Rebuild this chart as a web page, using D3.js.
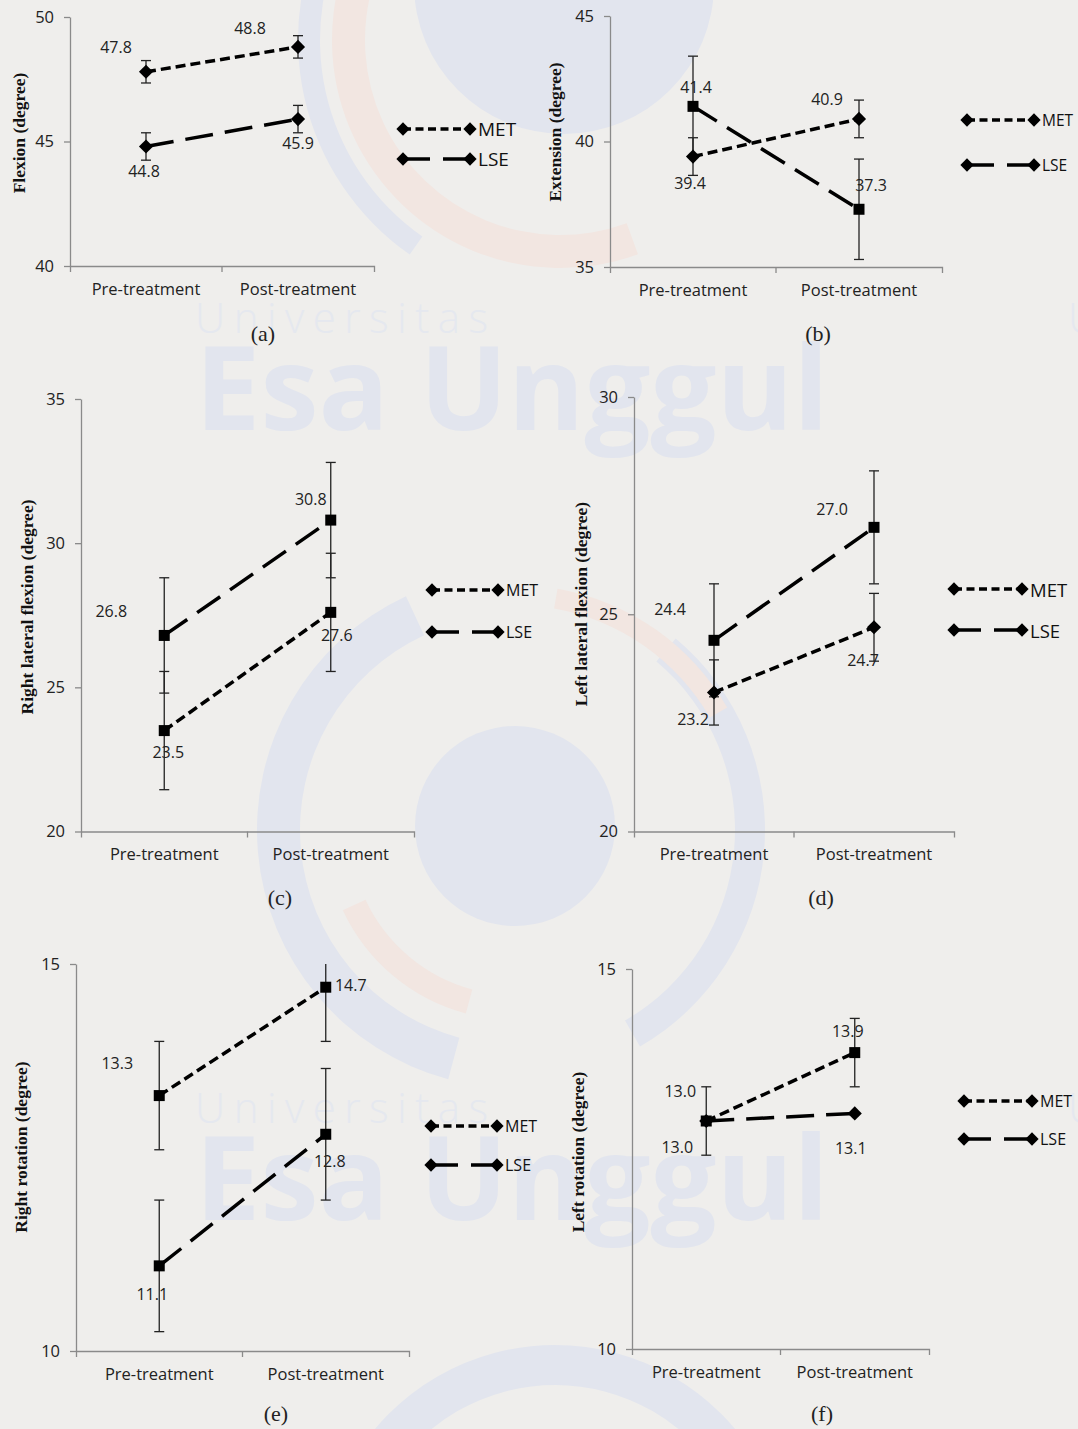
<!DOCTYPE html>
<html><head><meta charset="utf-8">
<script src="https://cdn.jsdelivr.net/npm/d3@7"></script>
<style>
html,body{margin:0;padding:0;background:#efeeec;}
svg{display:block;}
</style></head><body>
<svg id="chart" width="1078" height="1429"></svg>
<script>
// ---------- DATA ----------
const categories = ["Pre-treatment", "Post-treatment"];
const seriesNames = ["MET", "LSE"];

const flexionMET = [47.8, 48.8];
const flexionLSE = [44.8, 45.9];
const flexionErrMET = [0.45, 0.45];
const flexionErrLSE = [0.55, 0.55];
const flexionTicks = [40, 45, 50];

const extensionMET = [39.4, 40.9];
const extensionLSE = [41.4, 37.3];
const extensionErrMET = [0.75, 0.75];
const extensionErrLSE = [2.0, 2.0];
const extensionTicks = [35, 40, 45];

const rightLatMET = [23.5, 27.6];
const rightLatLSE = [26.8, 30.8];
const rightLatErrMET = [2.05, 2.05];
const rightLatErrLSE = [2.0, 2.0];
const rightLatTicks = [20, 25, 30, 35];

const leftLatMET = [23.2, 24.7];
const leftLatLSE = [24.4, 27.0];
const leftLatErrMET = [0.75, 0.78];
const leftLatErrLSE = [1.3, 1.3];
const leftLatTicks = [20, 25, 30];

const rightRotMET = [13.3, 14.7];
const rightRotLSE = [11.1, 12.8];
const rightRotErrMET = [0.7, 0.7];
const rightRotErrLSE = [0.85, 0.85];
const rightRotTicks = [10, 15];

const leftRotMET = [13.0, 13.9];
const leftRotLSE = [13.0, 13.1];
const leftRotErrMET = [0.45, 0.45];
const leftRotErrLSE = [0, 0];
const leftRotTicks = [10, 15];

// ---------- LAYOUT ----------
const panels = [
  {yTitle:"Flexion (degree)", caption:"(a)", met:flexionMET, lse:flexionLSE, errMet:flexionErrMET, errLse:flexionErrLSE, ticks:flexionTicks,
   markers:["diamond","diamond"], box:{x0:70,x1:374,yTop:17,yBot:266},
   labelOff:{met:[[-30,-25],[-48,-19]], lse:[[-2,25],[0,24]]},
   legend:{x0:403,x1:470,yMet:129,yLse:159,font:19}, titlePos:[19,133], captionPos:[263,333]},
  {yTitle:"Extension (degree)", caption:"(b)", met:extensionMET, lse:extensionLSE, errMet:extensionErrMET, errLse:extensionErrLSE, ticks:extensionTicks,
   markers:["diamond","square"], box:{x0:610,x1:942,yTop:16,yBot:267},
   labelOff:{met:[[-3,26],[-32,-20]], lse:[[3,-19],[12,-24]]},
   legend:{x0:967,x1:1034,yMet:120,yLse:165,font:15.5}, titlePos:[555,132], captionPos:[818,333]},
  {yTitle:"Right lateral flexion (degree)", caption:"(c)", met:rightLatMET, lse:rightLatLSE, errMet:rightLatErrMET, errLse:rightLatErrLSE, ticks:rightLatTicks,
   markers:["square","square"], box:{x0:81,x1:414,yTop:399,yBot:831.5},
   labelOff:{met:[[4,21],[6,23]], lse:[[-53,-24],[-20,-21]]},
   legend:{x0:432,x1:498,yMet:590,yLse:632,font:16}, titlePos:[27,607], captionPos:[280,897]},
  {yTitle:"Left lateral flexion (degree)", caption:"(d)", met:leftLatMET, lse:leftLatLSE, errMet:leftLatErrMET, errLse:leftLatErrLSE, ticks:leftLatTicks,
   markers:["diamond","square"], box:{x0:634,x1:954,yTop:397,yBot:831.5},
   labelOff:{met:[[-21,27],[-11,33]], lse:[[-44,-31],[-42,-18]]},
   legend:{x0:954,x1:1022,yMet:589,yLse:630,font:18.5}, titlePos:[581,604], captionPos:[821,897]},
  {yTitle:"Right rotation (degree)", caption:"(e)", met:rightRotMET, lse:rightRotLSE, errMet:rightRotErrMET, errLse:rightRotErrLSE, ticks:rightRotTicks,
   markers:["square","square"], box:{x0:76,x1:409,yTop:964,yBot:1351},
   labelOff:{met:[[-42,-33],[25,-2]], lse:[[-7,28],[4,27]]},
   legend:{x0:431,x1:497,yMet:1126,yLse:1165,font:16}, titlePos:[21,1147], captionPos:[276,1413]},
  {yTitle:"Left rotation (degree)", caption:"(f)", met:leftRotMET, lse:leftRotLSE, errMet:leftRotErrMET, errLse:leftRotErrLSE, ticks:leftRotTicks,
   markers:["square","diamond"], box:{x0:632,x1:929,yTop:969,yBot:1349},
   labelOff:{met:[[-26,-30],[-7,-22]], lse:[[-29,26],[-4,35]]},
   legend:{x0:964,x1:1032,yMet:1101,yLse:1139,font:16}, titlePos:[578,1152], captionPos:[822,1413]}
];

const dashes = {MET:"10,5", LSE:"28,12"};
const legendDashes = {MET:"8,4.5", LSE:"27,13"};
const sansFont = "'Open Sans', 'Noto Sans', sans-serif";
const serifFont = "'Liberation Serif', 'DejaVu Serif', serif";

const svg = d3.select("#chart");

// ---------- WATERMARK ----------
const wm = svg.append("g").attr("class","watermark");
const wBlue = "#e2e5ee", wOrange = "#f2e6e1";
function ring(cx, cy, r0, r1, a0, a1, col){
  wm.append("path").attr("transform",`translate(${cx},${cy})`)
    .attr("d", d3.arc()({innerRadius:r0, outerRadius:r1, startAngle:a0*Math.PI/180, endAngle:a1*Math.PI/180}))
    .attr("fill", col);
}
// top logo
wm.append("circle").attr("cx",564).attr("cy",-16).attr("r",150).attr("fill",wBlue);
ring(560,40,195,228,160,330,wOrange);
ring(560,40,240,262,215,300,wBlue);
// middle logo
wm.append("circle").attr("cx",515).attr("cy",826).attr("r",100).attr("fill",wBlue);
ring(515,830,215,258,195,335,wBlue);
ring(515,830,220,250,40,150,wBlue);
ring(515,830,165,190,195,245,wOrange);
ring(515,830,225,245,10,60,wOrange);
// bottom logo
ring(555,1580,195,235,300,420,wBlue);
// texts
[195, 1068].forEach(x0 => {
  [[333,430],[1123,1220]].forEach(([yu, ye]) => {
    wm.append("text").attr("x",x0).attr("y",yu).text("Universitas")
      .attr("font-family",sansFont).attr("font-weight",300).attr("font-size",42)
      .attr("textLength",293).attr("lengthAdjust","spacing").attr("fill","#e5e8ef");
    wm.append("text").attr("x",x0).attr("y",ye).text("Esa Unggul")
      .attr("font-family",sansFont).attr("font-weight",700).attr("font-size",116)
      .attr("textLength",634).attr("lengthAdjust","spacingAndGlyphs").attr("fill",wBlue);
  });
});

// ---------- PANELS ----------
function markerPath(type){
  if(type === "diamond") return d3.symbol().type(d3.symbolSquare).size(100)();
  return d3.symbol().type(d3.symbolSquare).size(121)();
}
function markerRot(type){ return type === "diamond" ? 45 : 0; }

panels.forEach(p => {
  const g = svg.append("g");
  const b = p.box;
  const yMin = d3.min(p.ticks), yMax = d3.max(p.ticks);
  const xb = d3.scaleBand().domain(categories).range([b.x0, b.x1]);
  const xp = d3.scalePoint().domain(categories).range([b.x0, b.x1]).padding(0.5);
  const y = d3.scaleLinear().domain([yMin, yMax]).range([b.yBot, b.yTop]);

  // y axis
  const ya = g.append("g").attr("transform",`translate(${b.x0},0)`)
    .call(d3.axisLeft(y).tickValues(p.ticks).tickSizeInner(6).tickSizeOuter(0).tickPadding(10).tickFormat(d3.format("d")));
  ya.attr("font-size",null).attr("font-family",null);
  ya.selectAll("path,line").attr("stroke","#8a8a8a").attr("stroke-width",1.3);
  ya.selectAll("text").style("font-family",sansFont).style("font-size","16.5px").attr("fill","#222");

  // x axis
  const xa = g.append("g").attr("transform",`translate(0,${b.yBot})`)
    .call(d3.axisBottom(xb).tickSizeInner(0).tickSizeOuter(6).tickPadding(17));
  xa.attr("font-size",null).attr("font-family",null);
  xa.selectAll("path").attr("stroke","#8a8a8a").attr("stroke-width",1.3);
  xa.selectAll("text").style("font-family",sansFont).style("font-size","16.5px").attr("fill","#222");
  categories.slice(1).forEach(c => {
    xa.append("line").attr("x1",xb(c)).attr("x2",xb(c)).attr("y1",0).attr("y2",6)
      .attr("stroke","#8a8a8a").attr("stroke-width",1.3);
  });

  // titles
  g.append("text").attr("transform",`translate(${p.titlePos[0]},${p.titlePos[1]}) rotate(-90)`)
    .attr("text-anchor","middle").attr("dominant-baseline","central")
    .attr("font-family",serifFont).attr("font-weight","bold").attr("font-size",17.5).attr("fill","#111")
    .text(p.yTitle);
  g.append("text").attr("x",p.captionPos[0]).attr("y",p.captionPos[1])
    .attr("text-anchor","middle").attr("dominant-baseline","central")
    .attr("font-family",serifFont).attr("font-size",22).attr("fill","#222").text(p.caption);

  const series = [
    {name:"MET", vals:p.met, err:p.errMet, marker:p.markers[0], off:p.labelOff.met},
    {name:"LSE", vals:p.lse, err:p.errLse, marker:p.markers[1], off:p.labelOff.lse}
  ];

  // error bars
  series.forEach(s => {
    s.vals.forEach((v,i) => {
      const e = s.err[i];
      if(!e) return;
      const cx = xp(categories[i]);
      const lo = Math.max(yMin, v - e), hi = Math.min(yMax, v + e);
      g.append("line").attr("x1",cx).attr("x2",cx).attr("y1",y(lo)).attr("y2",y(hi))
        .attr("stroke","#222").attr("stroke-width",1.3);
      [[lo, v - e >= yMin],[hi, v + e <= yMax]].forEach(([val, show]) => {
        if(!show) return;
        g.append("line").attr("x1",cx-5).attr("x2",cx+5).attr("y1",y(val)).attr("y2",y(val))
          .attr("stroke","#222").attr("stroke-width",1.3);
      });
    });
  });

  // lines
  series.forEach(s => {
    const line = d3.line().x((d,i) => xp(categories[i])).y(d => y(d));
    g.append("path").attr("d", line(s.vals)).attr("fill","none").attr("stroke","#000")
      .attr("stroke-width",3.5).attr("stroke-dasharray",dashes[s.name]);
  });
  // markers
  series.forEach(s => {
    s.vals.forEach((v,i) => {
      g.append("path").attr("d", markerPath(s.marker))
        .attr("transform",`translate(${xp(categories[i])},${y(v)}) rotate(${markerRot(s.marker)})`)
        .attr("fill","#000");
    });
  });
  // data labels
  series.forEach(s => {
    s.vals.forEach((v,i) => {
      g.append("text").attr("x", xp(categories[i]) + s.off[i][0]).attr("y", y(v) + s.off[i][1])
        .attr("text-anchor","middle").attr("dominant-baseline","central")
        .attr("font-family",sansFont).attr("font-size",16).attr("fill","#222")
        .text(d3.format(".1f")(v));
    });
  });

  // legend
  const L = p.legend;
  seriesNames.forEach(name => {
    const ly = name === "MET" ? L.yMet : L.yLse;
    g.append("line").attr("x1",L.x0).attr("x2",L.x1).attr("y1",ly).attr("y2",ly)
      .attr("stroke","#000").attr("stroke-width",3.5).attr("stroke-dasharray",legendDashes[name]);
    [L.x0, L.x1].forEach(x => {
      g.append("path").attr("d", d3.symbol().type(d3.symbolSquare).size(88)())
        .attr("transform",`translate(${x},${ly}) rotate(45)`).attr("fill","#000");
    });
    g.append("text").attr("x",L.x1 + 8).attr("y",ly).attr("dominant-baseline","central")
      .attr("font-family",sansFont).attr("font-size",L.font).attr("fill","#111").text(name);
  });
});
</script>
</body></html>
